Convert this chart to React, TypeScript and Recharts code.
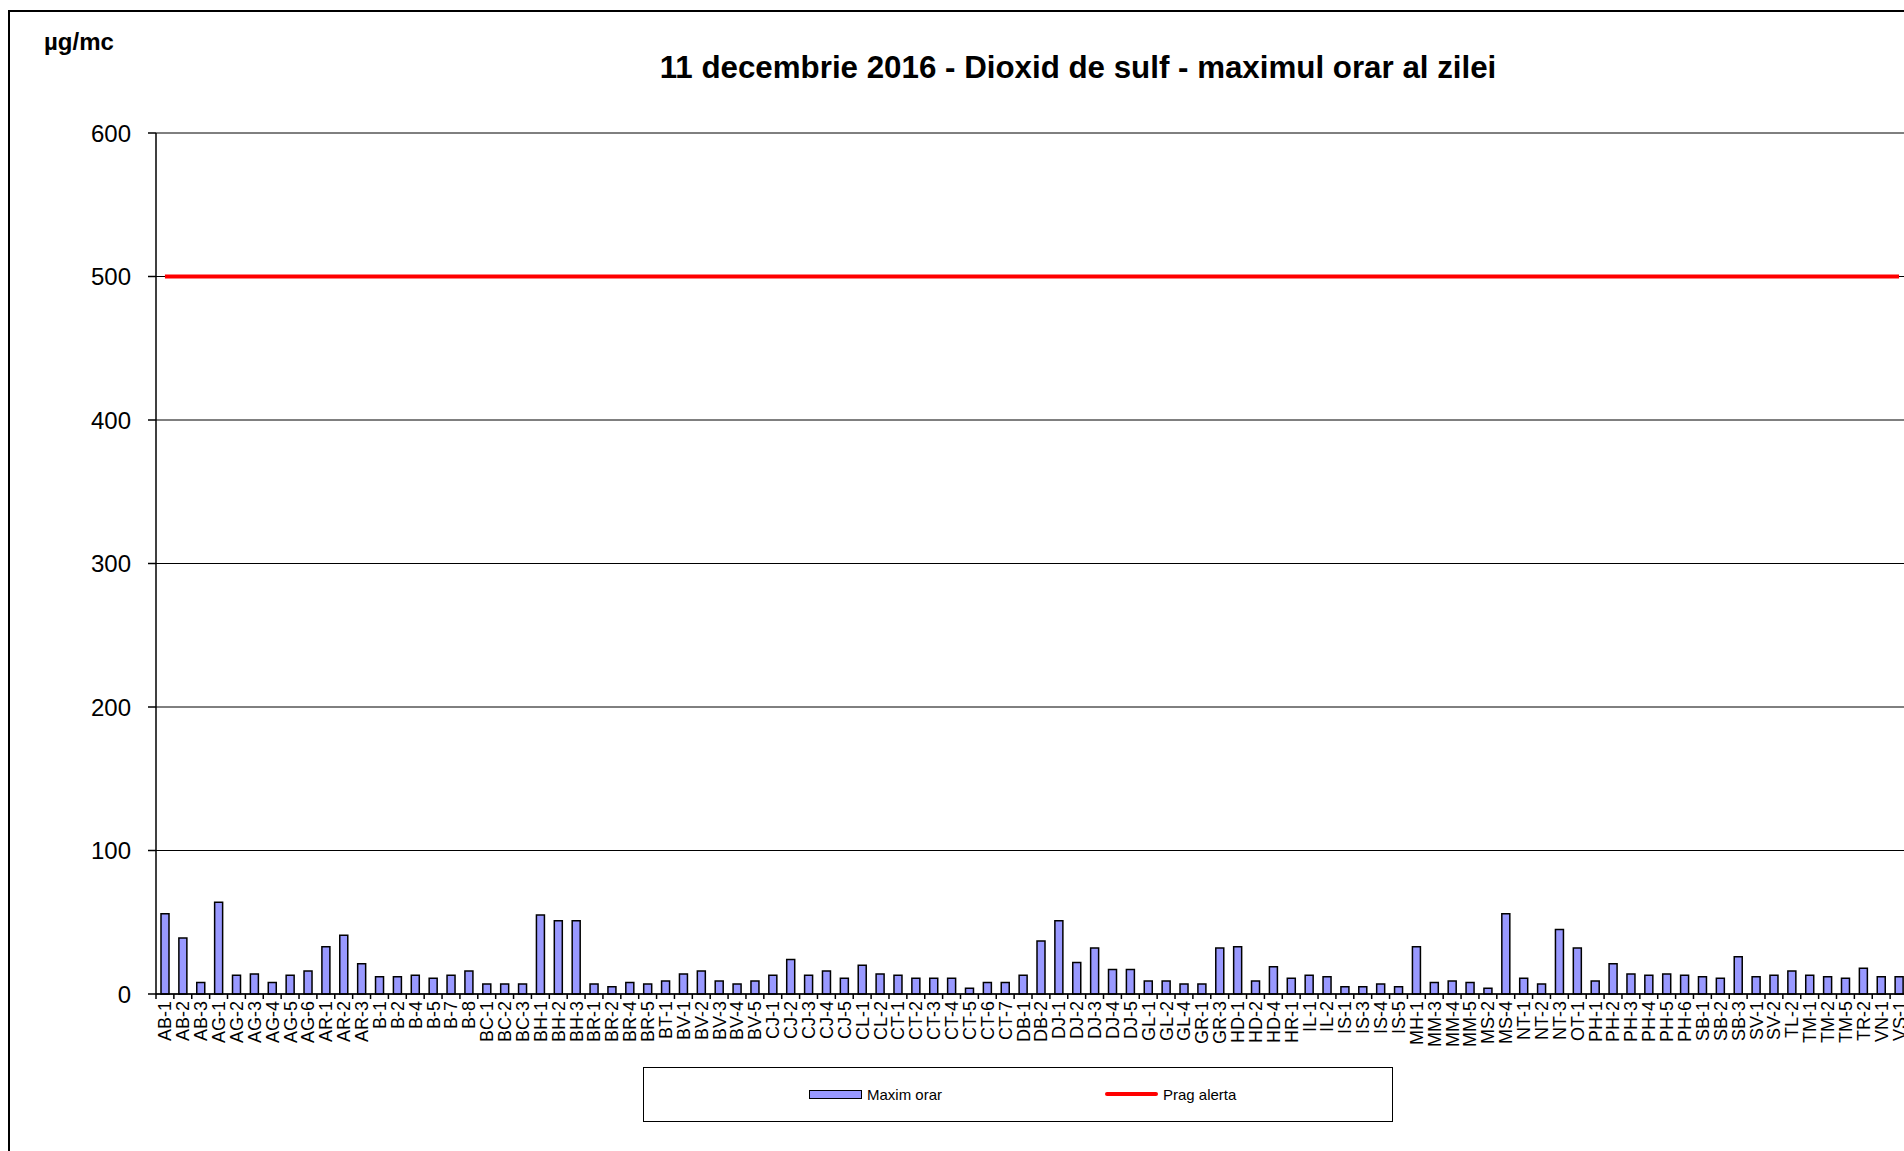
import React from "react";
import { ComposedChart, Bar, Line, XAxis, YAxis, CartesianGrid } from "recharts";

// statii de monitorizare (ordinea de pe axa X)
const stations = [
  "AB-1", "AB-2", "AB-3", "AG-1", "AG-2", "AG-3", "AG-4", "AG-5", "AG-6", "AR-1",
  "AR-2", "AR-3", "B-1", "B-2", "B-4", "B-5", "B-7", "B-8", "BC-1", "BC-2",
  "BC-3", "BH-1", "BH-2", "BH-3", "BR-1", "BR-2", "BR-4", "BR-5", "BT-1", "BV-1",
  "BV-2", "BV-3", "BV-4", "BV-5", "CJ-1", "CJ-2", "CJ-3", "CJ-4", "CJ-5", "CL-1",
  "CL-2", "CT-1", "CT-2", "CT-3", "CT-4", "CT-5", "CT-6", "CT-7", "DB-1", "DB-2",
  "DJ-1", "DJ-2", "DJ-3", "DJ-4", "DJ-5", "GL-1", "GL-2", "GL-4", "GR-1", "GR-3",
  "HD-1", "HD-2", "HD-4", "HR-1", "IL-1", "IL-2", "IS-1", "IS-3", "IS-4", "IS-5",
  "MH-1", "MM-3", "MM-4", "MM-5", "MS-2", "MS-4", "NT-1", "NT-2", "NT-3", "OT-1",
  "PH-1", "PH-2", "PH-3", "PH-4", "PH-5", "PH-6", "SB-1", "SB-2", "SB-3", "SV-1",
  "SV-2", "TL-2", "TM-1", "TM-2", "TM-5", "TR-2", "VN-1", "VS-1",
];

// maximul orar al zilei, µg/mc
const maximOrar = [
  56, 39, 8, 64, 13, 14, 8, 13, 16, 33,
  41, 21, 12, 12, 13, 11, 13, 16, 7, 7,
  7, 55, 51, 51, 7, 5, 8, 7, 9, 14,
  16, 9, 7, 9, 13, 24, 13, 16, 11, 20,
  14, 13, 11, 11, 11, 4, 8, 8, 13, 37,
  51, 22, 32, 17, 17, 9, 9, 7, 7, 32,
  33, 9, 19, 11, 13, 12, 5, 5, 7, 5,
  33, 8, 9, 8, 4, 56, 11, 7, 45, 32,
  9, 21, 14, 13, 14, 13, 12, 11, 26, 12,
  13, 16, 13, 12, 11, 18, 12, 12,
];

const pragAlerta = 500;
const yTicks = [0, 100, 200, 300, 400, 500, 600];

const data = stations.map((s, i) => ({ statie: s, maxim: maximOrar[i], prag: pragAlerta }));

const FONT = '"Liberation Sans", Arial, Helvetica, sans-serif';
const CHART_W = 1910;
const CHART_H = 1151;
const PLOT_LEFT = 156;
const PLOT_RIGHT = 1908;
const HALF_BAND = (PLOT_RIGHT - PLOT_LEFT) / stations.length / 2;

function StationTick(props: any) {
  const { x, y, payload } = props;
  const ty = y + 7;
  return (
    <g>
      <line x1={x - HALF_BAND} x2={x - HALF_BAND} y1={y} y2={y + 5} stroke="#000" strokeWidth={1.5} />
      <text
        x={x}
        y={ty}
        transform={`rotate(-90, ${x}, ${ty})`}
        textAnchor="end"
        dy="0.36em"
        fontSize={18}
        fill="#000"
        fontFamily={FONT}
      >
        {payload.value}
      </text>
    </g>
  );
}

function LegendBox() {
  return (
    <div
      style={{
        position: "absolute",
        left: 643,
        top: 1067,
        width: 750,
        height: 55,
        boxSizing: "border-box",
        border: "1.5px solid #000",
        background: "#fff",
        fontFamily: FONT,
        fontSize: 15,
        color: "#000",
      }}
    >
      <div
        style={{
          position: "absolute",
          left: 165,
          top: 22,
          width: 53,
          height: 9,
          boxSizing: "border-box",
          background: "#9999FF",
          border: "1.5px solid #000",
        }}
      />
      <div style={{ position: "absolute", left: 223, top: 18, lineHeight: "17px" }}>Maxim orar</div>
      <div
        style={{
          position: "absolute",
          left: 461,
          top: 24,
          width: 53,
          height: 4,
          background: "#FF0000",
          borderRadius: 2,
        }}
      />
      <div style={{ position: "absolute", left: 519, top: 18, lineHeight: "17px" }}>Prag alerta</div>
    </div>
  );
}

export default function App() {
  return (
    <div
      style={{
        position: "absolute",
        left: 0,
        top: 0,
        width: 1904,
        height: 1151,
        overflow: "hidden",
        background: "#fff",
        fontFamily: FONT,
      }}
    >
      <div
        style={{
          position: "absolute",
          left: 8,
          top: 10,
          width: 2000,
          height: 1300,
          border: "2px solid #000",
        }}
      />
      <div
        style={{
          position: "absolute",
          left: 44,
          top: 30,
          fontSize: 24,
          fontWeight: "bold",
          lineHeight: "24px",
        }}
      >
        µg/mc
      </div>
      <div
        style={{
          position: "absolute",
          left: 478,
          width: 1200,
          top: 52,
          textAlign: "center",
          fontSize: 31.3,
          fontWeight: "bold",
          lineHeight: "32px",
        }}
      >
        11 decembrie 2016 - Dioxid de sulf - maximul orar al zilei
      </div>
      <div style={{ position: "absolute", left: 0, top: 0 }}>
        <ComposedChart
          width={CHART_W}
          height={CHART_H}
          data={data}
          margin={{ top: 133, right: CHART_W - PLOT_RIGHT, left: 0, bottom: 0 }}
          barCategoryGap="50%"
        >
          <CartesianGrid vertical={false} stroke="#000" strokeWidth={1} />
          <XAxis
            dataKey="statie"
            interval={0}
            height={CHART_H - 994}
            tickSize={0}
            tickMargin={0}
            tickLine={false}
            axisLine={{ stroke: "#000", strokeWidth: 1.5 }}
            tick={<StationTick />}
          />
          <YAxis
            width={PLOT_LEFT}
            domain={[0, 600]}
            ticks={yTicks}
            interval={0}
            tickSize={8}
            tickMargin={17}
            axisLine={{ stroke: "#000", strokeWidth: 1.5 }}
            tickLine={{ stroke: "#000", strokeWidth: 1.5 }}
            tick={{ fill: "#000", fontSize: 24, fontFamily: FONT }}
          />
          <Bar
            dataKey="maxim"
            name="Maxim orar"
            fill="#9999FF"
            stroke="#000"
            strokeWidth={1.5}
            barSize={8}
            isAnimationActive={false}
          />
          <Line
            dataKey="prag"
            name="Prag alerta"
            type="linear"
            stroke="#FF0000"
            strokeWidth={4}
            dot={false}
            activeDot={false}
            isAnimationActive={false}
          />
        </ComposedChart>
      </div>
      <LegendBox />
    </div>
  );
}
